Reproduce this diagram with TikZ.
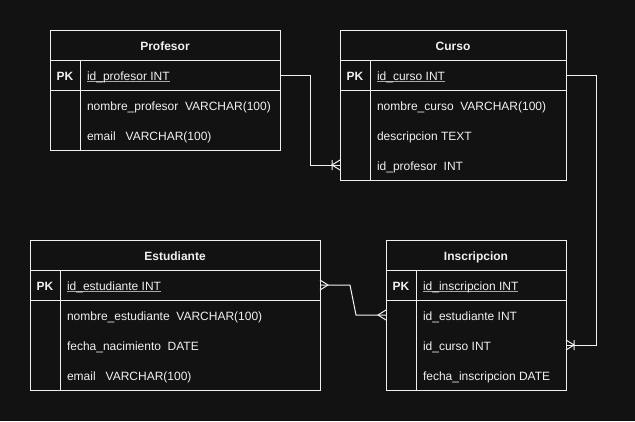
\documentclass[tikz,border=0pt]{standalone}
\usepackage{fontspec}
\setmainfont{Liberation Sans}
\usepackage{xcolor}
\usetikzlibrary{arrows.meta,calc}

\definecolor{bgdark}{HTML}{121212}
\definecolor{fg}{HTML}{F0F0F0}
\definecolor{ulgray}{HTML}{A8A8A8}

\newcommand{\pkuline}[1]{\setbox0\hbox{#1}\rlap{\color{ulgray}\rule[-1.8pt]{\wd0}{0.9pt}}\box0}

% crow's foot (many)
\pgfdeclarearrow{
  name = Crow,
  parameters = {\the\pgfarrowlength,\the\pgfarrowwidth},
  setup code = {
    \pgfarrowssettipend{0pt}
    \pgfarrowssetlineend{0pt}
    \pgfarrowssetbackend{-\pgfarrowlength}
    \pgfarrowssavethe\pgfarrowlength
    \pgfarrowssavethe\pgfarrowwidth
  },
  drawing code = {
    \pgfsetdash{}{0pt}
    \pgfpathmoveto{\pgfqpoint{0pt}{.5\pgfarrowwidth}}
    \pgfpathlineto{\pgfqpoint{-\pgfarrowlength}{0pt}}
    \pgfpathlineto{\pgfqpoint{0pt}{-.5\pgfarrowwidth}}
    \pgfusepathqstroke
  },
  defaults = {length=8pt, width=10pt}
}
% crow's foot with bar (one or many)
\pgfdeclarearrow{
  name = CrowBar,
  parameters = {\the\pgfarrowlength,\the\pgfarrowwidth},
  setup code = {
    \pgfarrowssettipend{0pt}
    \pgfarrowssetlineend{0pt}
    \pgfarrowssetbackend{-\pgfarrowlength}
    \pgfarrowssavethe\pgfarrowlength
    \pgfarrowssavethe\pgfarrowwidth
  },
  drawing code = {
    \pgfsetdash{}{0pt}
    \pgfpathmoveto{\pgfqpoint{0pt}{.5\pgfarrowwidth}}
    \pgfpathlineto{\pgfqpoint{-\pgfarrowlength}{0pt}}
    \pgfpathlineto{\pgfqpoint{0pt}{-.5\pgfarrowwidth}}
    \pgfpathmoveto{\pgfqpoint{-\pgfarrowlength}{.5\pgfarrowwidth}}
    \pgfpathlineto{\pgfqpoint{-\pgfarrowlength}{-.5\pgfarrowwidth}}
    \pgfusepathqstroke
  },
  defaults = {length=8pt, width=10pt}
}

\begin{document}
\begin{tikzpicture}[
    x=1pt, y=-1pt,
    line width=1pt,
    every node/.style={font=\fontsize{12}{14}\selectfont, text=fg, outer sep=0pt},
    tblbox/.style={draw=fg, fill=bgdark, anchor=north west, inner sep=0pt},
    tblhead/.style={tblbox, minimum height=30pt, font=\fontsize{12}{14}\selectfont\bfseries, text height=10.5pt, text depth=0pt},
    pkcell/.style={tblbox, minimum width=30pt, minimum height=30pt, font=\fontsize{12}{14}\selectfont\bfseries, text height=10.5pt, text depth=0pt},
    keyrow/.style={tblbox, minimum height=30pt},
    keycol/.style={tblbox, minimum width=30pt},
    fieldtxt/.style={anchor=west, inner xsep=7pt, inner ysep=0pt, text height=10.5pt, text depth=0pt},
    conn/.style={draw=fg, line width=1pt}
]
\fill[bgdark] (0,0) rectangle (635,421);

% Profesor
\node[tblhead, minimum width=230pt] (profHead) at (50,30) {Profesor};
\node[pkcell] (profPK) at (profHead.south west) {PK};
\node[keyrow, minimum width=200pt] (profKey) at (profPK.north east) {};
\node[keycol, minimum height=60pt] (profCol) at (profPK.south west) {};
\node[tblbox, minimum width=200pt, minimum height=60pt] (profBody) at (profCol.north east) {};
\node[fieldtxt] (profId) at (profKey.west) {\pkuline{id\_profesor INT}};
\foreach \fld [count=\i] in {nombre\_profesor\ \ VARCHAR(100), email\ \ \ VARCHAR(100)}
  \node[fieldtxt] (prof-\i) at ($(profBody.north west)+(0,{30*\i-15})$) {\fld};

% Curso
\node[tblhead, minimum width=226pt] (cursoHead) at (340,30) {Curso};
\node[pkcell] (cursoPK) at (cursoHead.south west) {PK};
\node[keyrow, minimum width=196pt] (cursoKey) at (cursoPK.north east) {};
\node[keycol, minimum height=90pt] (cursoCol) at (cursoPK.south west) {};
\node[tblbox, minimum width=196pt, minimum height=90pt] (cursoBody) at (cursoCol.north east) {};
\node[fieldtxt] (cursoId) at (cursoKey.west) {\pkuline{id\_curso INT}};
\foreach \fld [count=\i] in {nombre\_curso\ \ VARCHAR(100), descripcion TEXT, id\_profesor\ \ INT}
  \node[fieldtxt] (curso-\i) at ($(cursoBody.north west)+(0,{30*\i-15})$) {\fld};

% Estudiante
\node[tblhead, minimum width=290pt] (estHead) at (30,240) {Estudiante};
\node[pkcell] (estPK) at (estHead.south west) {PK};
\node[keyrow, minimum width=260pt] (estKey) at (estPK.north east) {};
\node[keycol, minimum height=90pt] (estCol) at (estPK.south west) {};
\node[tblbox, minimum width=260pt, minimum height=90pt] (estBody) at (estCol.north east) {};
\node[fieldtxt] (estId) at (estKey.west) {\pkuline{id\_estudiante INT}};
\foreach \fld [count=\i] in {nombre\_estudiante\ \ VARCHAR(100), fecha\_nacimiento\ \ DATE, email\ \ \ VARCHAR(100)}
  \node[fieldtxt] (est-\i) at ($(estBody.north west)+(0,{30*\i-15})$) {\fld};

% Inscripcion
\node[tblhead, minimum width=180pt] (inscHead) at (386,240) {Inscripcion};
\node[pkcell] (inscPK) at (inscHead.south west) {PK};
\node[keyrow, minimum width=150pt] (inscKey) at (inscPK.north east) {};
\node[keycol, minimum height=90pt] (inscCol) at (inscPK.south west) {};
\node[tblbox, minimum width=150pt, minimum height=90pt] (inscBody) at (inscCol.north east) {};
\node[fieldtxt] (inscId) at (inscKey.west) {\pkuline{id\_inscripcion INT}};
\foreach \fld [count=\i] in {id\_estudiante INT, id\_curso INT, fecha\_inscripcion DATE}
  \node[fieldtxt] (insc-\i) at ($(inscBody.north west)+(0,{30*\i-15})$) {\fld};

% relations
\draw[conn, -{CrowBar}] (profKey.east) -- ++(30,0) |- (cursoCol.west |- curso-3);
\draw[conn, -{CrowBar}] (cursoKey.east) -- ++(30,0) |- (inscBody.east |- insc-2);
\draw[conn, {Crow}-{Crow}] (estKey.east) -- ++(30,0) -- ($(inscCol.west |- insc-1)+(-30,0)$) -- (inscCol.west |- insc-1);
\end{tikzpicture}
\end{document}
